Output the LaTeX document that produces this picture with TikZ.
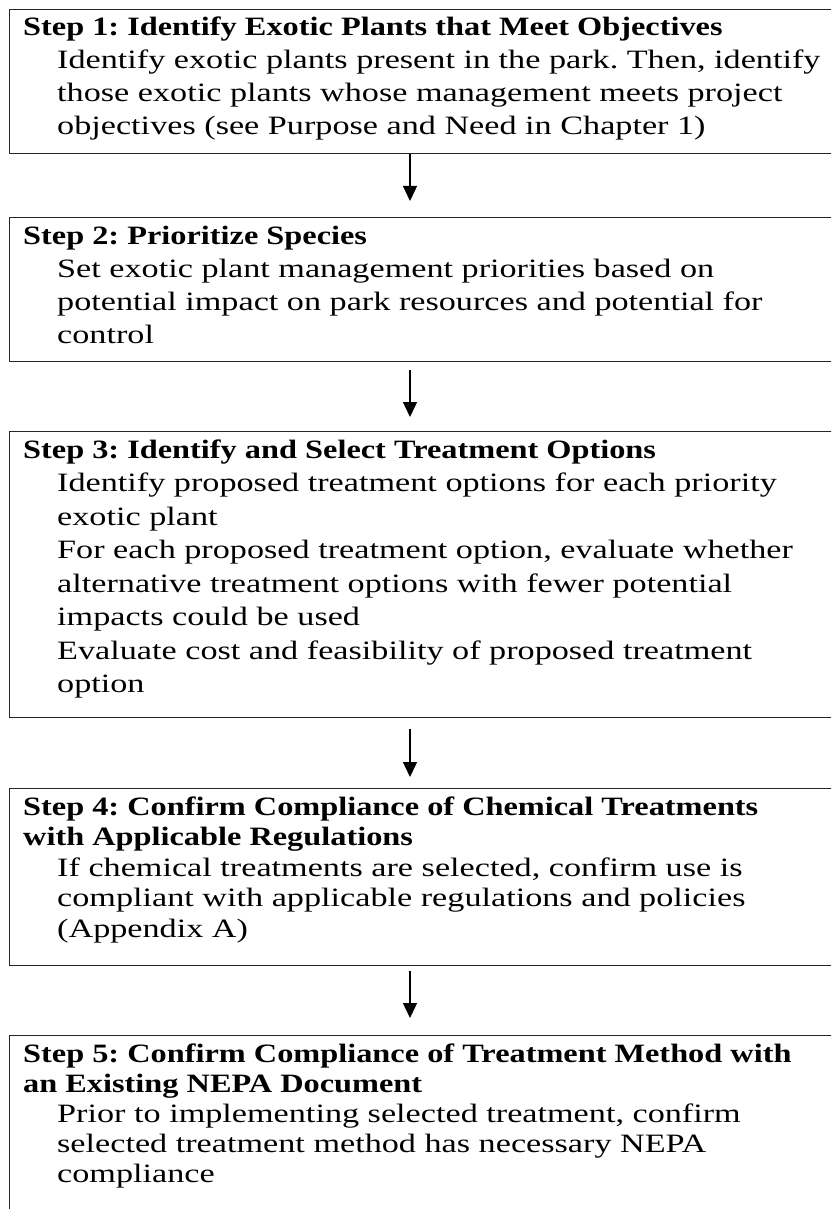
\documentclass[tikz,border=0pt]{standalone}
\usepackage{fontspec}
\setmainfont{Liberation Serif}[FakeStretch=1.29]
\newfontfamily\titlefont{Liberation Serif}[FakeStretch=1.22]
\usetikzlibrary{arrows.meta}
\newlength{\bodyind}\setlength{\bodyind}{34pt}
\newcommand{\bodyln}[1]{\hspace*{\bodyind}#1}
\newcommand{\ttl}[1]{{\titlefont\bfseries #1}}
\newcommand{\steppar}[2]{\parbox[t]{1000pt}{\fontsize{26.5}{#1}\selectfont\frenchspacing\raggedright #2}}
\tikzset{
  stepbox/.style={draw=black!85, line width=1.3pt, rectangle, anchor=north west, inner sep=0pt, minimum width=900pt},
  steptext/.style={anchor=base west, inner sep=0pt},
  arr/.style={draw=black, line width=1.3pt, -{Triangle[length=15pt,width=14pt]}},
}
\begin{document}
\begin{tikzpicture}[x=1pt,y=-1pt]
\clip (0,0) rectangle (831,1209);
\coordinate (ax) at (410,0);
% boxes
\node[stepbox, minimum height=144pt] (b1) at (8.5,9) {};
\node[stepbox, minimum height=144pt] (b2) at (8.5,217) {};
\node[stepbox, minimum height=286pt] (b3) at (8.5,431) {};
\node[stepbox, minimum height=177pt] (b4) at (8.5,788) {};
\node[stepbox, minimum height=260pt] (b5) at (8.5,1035) {};
% texts
\node[steptext] (t1) at (23,36) {\steppar{33}{\ttl{Step 1: Identify Exotic Plants that Meet Objectives}\\
\bodyln{Identify exotic plants present in the park. Then, identify}\\
\bodyln{those exotic plants whose management meets project}\\
\bodyln{objectives (see Purpose and Need in Chapter 1)}}};
\node[steptext] (t2) at (23,244) {\steppar{33}{\ttl{Step 2: Prioritize Species}\\
\bodyln{Set exotic plant management priorities based on}\\
\bodyln{potential impact on park resources and potential for}\\
\bodyln{control}}};
\node[steptext] (t3) at (23,458) {\steppar{33.5}{\ttl{Step 3: Identify and Select Treatment Options}\\
\bodyln{Identify proposed treatment options for each priority}\\
\bodyln{exotic plant}\\
\bodyln{For each proposed treatment option, evaluate whether}\\
\bodyln{alternative treatment options with fewer potential}\\
\bodyln{impacts could be used}\\
\bodyln{Evaluate cost and feasibility of proposed treatment}\\
\bodyln{option}}};
\node[steptext] (t4) at (23,815) {\steppar{30.5}{\ttl{Step 4: Confirm Compliance of Chemical Treatments}\\
\ttl{with Applicable Regulations}\\
\bodyln{If chemical treatments are selected, confirm use is}\\
\bodyln{compliant with applicable regulations and policies}\\
\bodyln{(Appendix A)}}};
\node[steptext] (t5) at (23,1062) {\steppar{30}{\ttl{Step 5: Confirm Compliance of Treatment Method with}\\
\ttl{an Existing NEPA Document}\\
\bodyln{Prior to implementing selected treatment, confirm}\\
\bodyln{selected treatment method has necessary NEPA}\\
\bodyln{compliance}}};
% arrows
\draw[arr, shorten <=0pt, shorten >=16pt] (b1.south -| ax) -- (b2.north -| ax);
\draw[arr, shorten <=8pt, shorten >=14pt] (b2.south -| ax) -- (b3.north -| ax);
\draw[arr, shorten <=11pt, shorten >=11pt] (b3.south -| ax) -- (b4.north -| ax);
\draw[arr, shorten <=5pt, shorten >=17pt] (b4.south -| ax) -- (b5.north -| ax);
\end{tikzpicture}
\end{document}
